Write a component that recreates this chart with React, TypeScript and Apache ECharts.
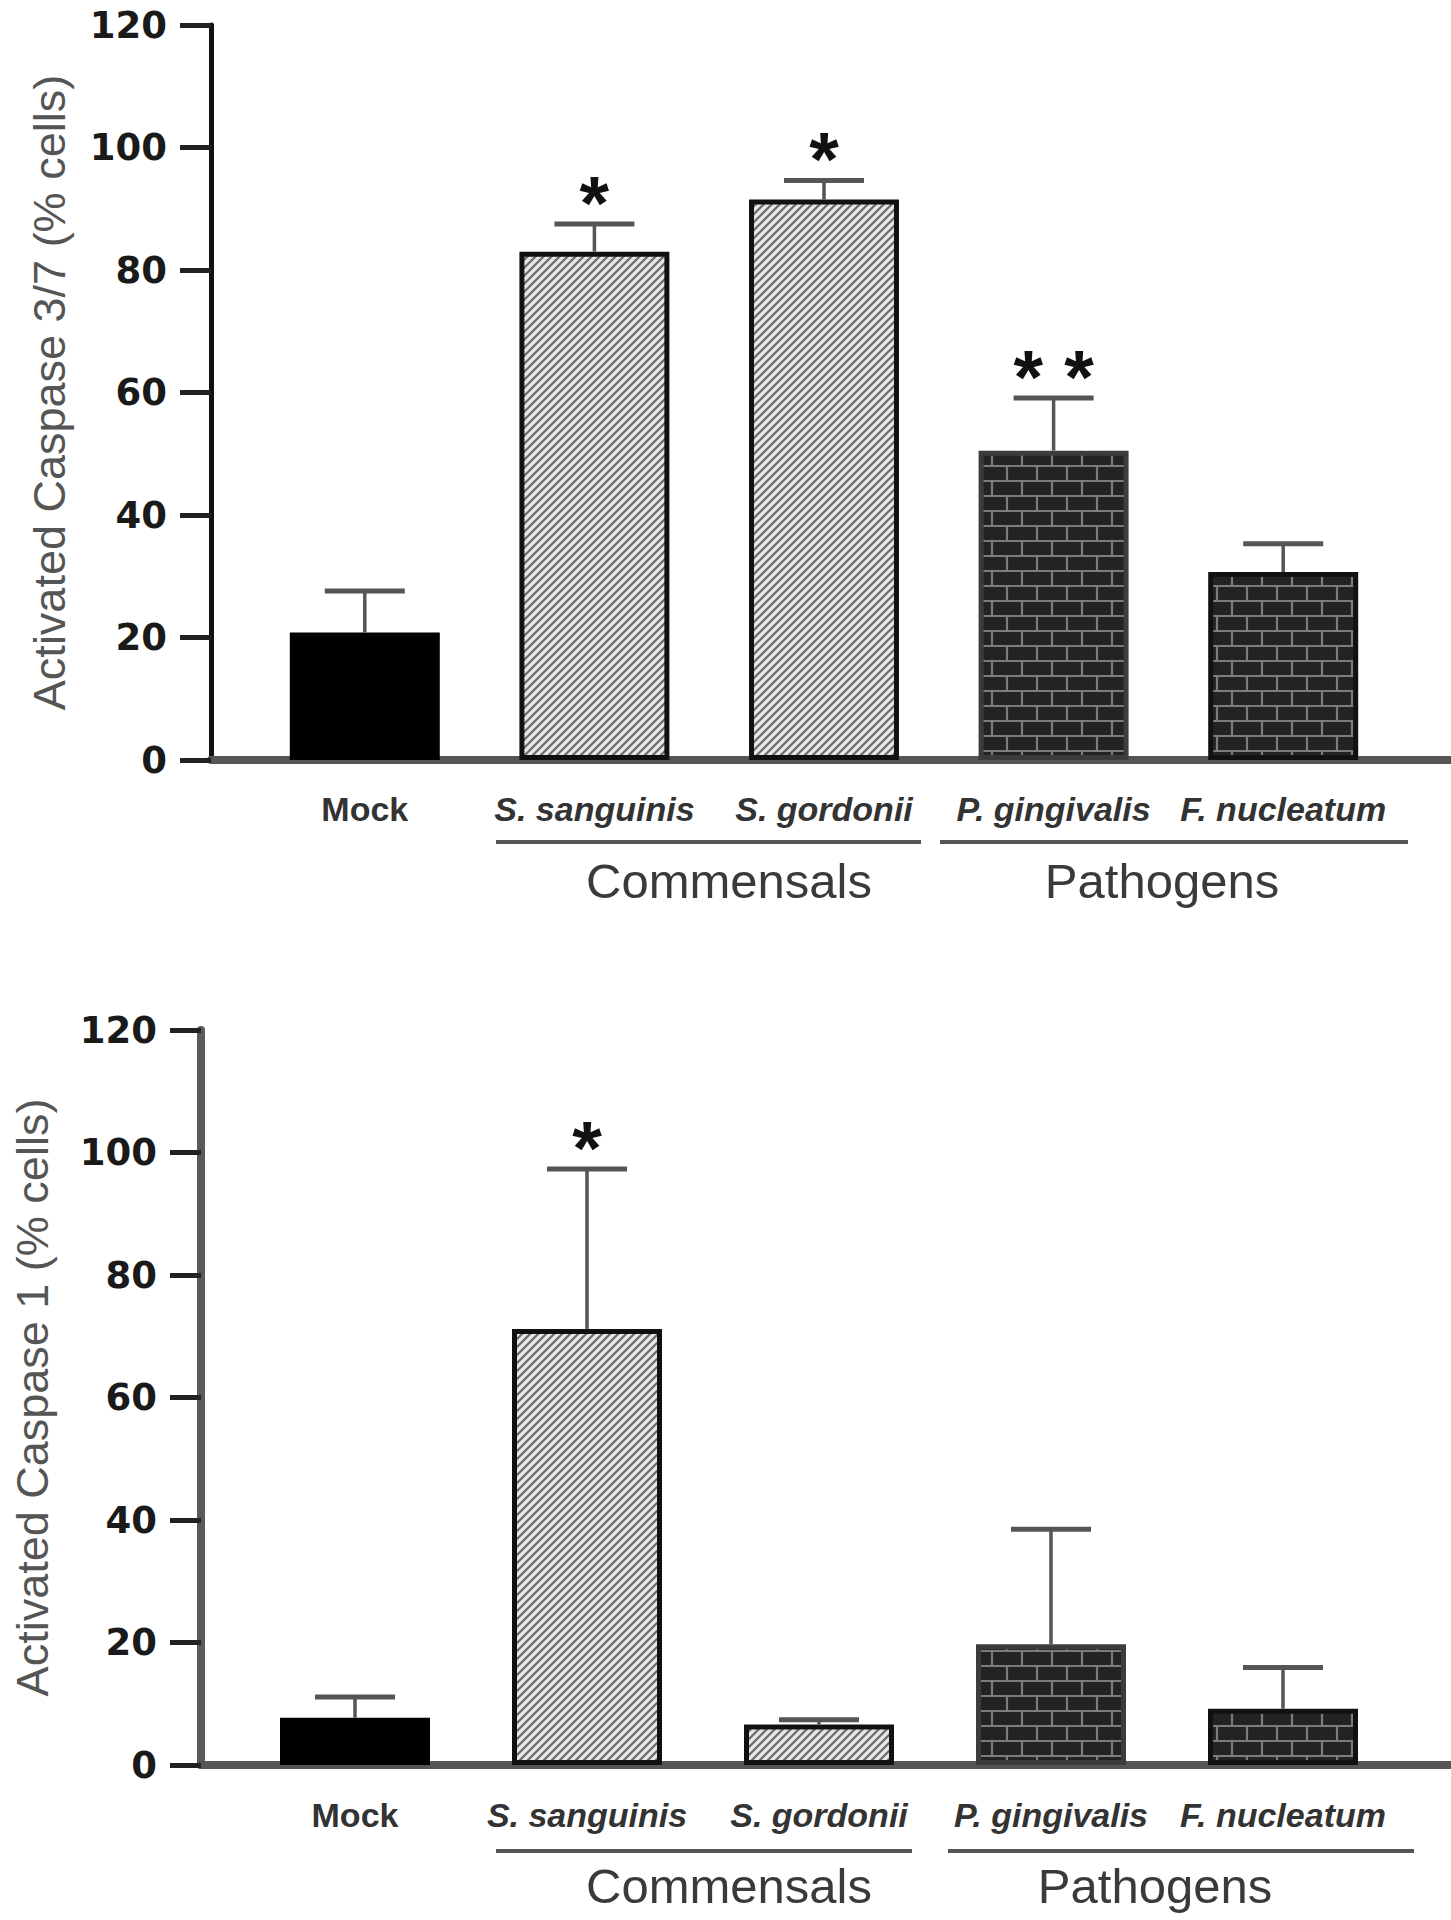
import React, { useEffect, useRef } from 'react';
import * as echarts from 'echarts';

const categories = ['Mock', 'S. sanguinis', 'S. gordonii', 'P. gingivalis', 'F. nucleatum'];
const yMin = 0;
const yMax = 120;
const yInterval = 20;

// Activated Caspase 3/7 (% cells)
const casp37Mean = [20.8, 83, 91.5, 50.5, 30.7];
const casp37Err = [6.8, 4.5, 3.1, 8.6, 4.6];
const casp37Sig = ['', '*', '*', '* *', ''];

// Activated Caspase 1 (% cells)
const casp1Mean = [7.7, 71.2, 6.6, 19.7, 9.2];
const casp1Err = [3.4, 26.1, 0.8, 18.8, 6.7];
const casp1Sig = ['', '*', '', '', ''];

const groupNames = ['Commensals', 'Pathogens'];

function makeHatch() {
  const c = document.createElement('canvas');
  c.width = 8;
  c.height = 8;
  const g = c.getContext('2d')!;
  g.fillStyle = '#e6e6e6';
  g.fillRect(0, 0, 8, 8);
  g.strokeStyle = '#6a6a6a';
  g.lineWidth = 2.2;
  g.beginPath();
  g.moveTo(-2, 10); g.lineTo(10, -2);
  g.moveTo(-2, 2); g.lineTo(2, -2);
  g.moveTo(6, 10); g.lineTo(10, 6);
  g.stroke();
  return c;
}

function makeBrick() {
  const c = document.createElement('canvas');
  c.width = 30;
  c.height = 30;
  const g = c.getContext('2d')!;
  g.fillStyle = '#232323';
  g.fillRect(0, 0, 30, 30);
  g.strokeStyle = '#7c7c7c';
  g.lineWidth = 2.2;
  g.beginPath();
  g.moveTo(0, 1); g.lineTo(30, 1);
  g.moveTo(0, 16); g.lineTo(30, 16);
  g.moveTo(2, 1); g.lineTo(2, 16);
  g.moveTo(17, 16); g.lineTo(17, 31);
  g.stroke();
  return c;
}

export default function App() {
  const ref = useRef<HTMLDivElement>(null);
  useEffect(() => {
    if (!ref.current) return;
    const chart = echarts.init(ref.current, null, { renderer: 'svg' });
    const hatch = { image: makeHatch(), repeat: 'repeat', imageWidth: 8, imageHeight: 8 };
    const brick = { image: makeBrick(), repeat: 'repeat', imageWidth: 30, imageHeight: 30 };

    const styleFor = (i: number) => {
      if (i === 0) return { color: '#000', borderColor: '#000', borderWidth: 0 };
      if (i === 1 || i === 2) return { color: hatch, borderColor: '#111', borderWidth: 5 };
      return { color: brick, borderColor: i === 3 ? '#3c3c3c' : '#111', borderWidth: 5 };
    };

    const fontSans = '"Liberation Sans", Arial, sans-serif';

    const axesGrid = (gi: number, name: string, nameGap: number, lineColor: string, lineW: number) => ({
      x: {
        type: 'value', gridIndex: gi, min: 0, max: 1,
        axisLine: { show: true, lineStyle: { color: '#555', width: 8 } },
        axisTick: { show: false }, axisLabel: { show: false }, splitLine: { show: false },
      },
      y: {
        type: 'value', gridIndex: gi, min: yMin, max: yMax, interval: yInterval,
        axisLine: { show: true, lineStyle: { color: lineColor, width: lineW } },
        axisTick: { show: true, length: 31, lineStyle: { color: '#222', width: 5 } },
        axisLabel: { margin: 44, fontSize: 37, fontWeight: 'bold', fontFamily: '"DejaVu Sans", sans-serif', color: '#1a1a1a' },
        splitLine: { show: false },
        name, nameLocation: 'middle', nameGap,
        nameTextStyle: { fontSize: 45, color: '#555', fontFamily: fontSans },
      },
    });

    const catAxis = (gi: number, margin: number) => ({
      type: 'category', gridIndex: gi, data: categories,
      axisLine: { show: false }, axisTick: { show: false },
      axisLabel: {
        interval: 0, margin,
        formatter: (v: string) => (v === 'Mock' ? `{n|${v}}` : `{i|${v}}`),
        rich: {
          n: { fontSize: 34, fontWeight: 'bold', fontFamily: fontSans, color: '#333' },
          i: { fontSize: 34, fontWeight: 'bold', fontStyle: 'italic', fontFamily: fontSans, color: '#333' },
        },
      },
    });
    const hiddenY = (gi: number) => ({ type: 'value', gridIndex: gi, min: yMin, max: yMax, show: false });

    const a0 = axesGrid(0, 'Activated Caspase 3/7 (% cells)', 139, '#111', 5);
    const a2 = axesGrid(2, 'Activated Caspase 1 (% cells)', 146, '#5a5a5a', 8);

    const barSeries = (axisIdx: number, mean: number[]) => ({
      type: 'bar', xAxisIndex: axisIdx, yAxisIndex: axisIdx, barWidth: 150, z: 2,
      data: mean.map((v, i) => ({ value: v, itemStyle: styleFor(i) })),
    });

    const errSeries = (axisIdx: number, mean: number[], err: number[], sig: string[]) => ({
      type: 'custom', xAxisIndex: axisIdx, yAxisIndex: axisIdx, z: 3,
      data: mean.map((v, i) => [i, v, err[i]]),
      renderItem: (params: any, api: any) => {
        const x = api.value(0);
        const m = api.value(1);
        const e = api.value(2);
        const p0 = api.coord([x, m]);
        const p1 = api.coord([x, m + e]);
        const children: any[] = [
          { type: 'line', shape: { x1: p0[0], y1: p0[1], x2: p1[0], y2: p1[1] }, style: { stroke: '#555', lineWidth: 3.5 } },
          { type: 'line', shape: { x1: p1[0] - 40, y1: p1[1], x2: p1[0] + 40, y2: p1[1] }, style: { stroke: '#555', lineWidth: 5 } },
        ];
        const s = sig[params.dataIndex];
        if (s) {
          children.push({
            type: 'text', x: p1[0], y: p1[1] - 38 + 16,
            style: { text: s, fontSize: 76, fontWeight: 'bold', fontFamily: fontSans, fill: '#111', align: 'center', verticalAlign: 'middle' },
          });
        }
        return { type: 'group', children };
      },
    });

    const groupGraphics = (lineY: number, textY: number, spans: number[][], textX: number[]) => {
      const els: any[] = [];
      spans.forEach((s, k) => {
        els.push({ type: 'line', shape: { x1: s[0], y1: lineY, x2: s[1], y2: lineY }, style: { stroke: '#555', lineWidth: 4 } });
        els.push({ type: 'text', x: textX[k], y: textY, style: { text: groupNames[k], fontSize: 49, fontFamily: fontSans, fill: '#3a3a3a', align: 'center', verticalAlign: 'middle' } });
      });
      return els;
    };

    chart.setOption({
      animation: false,
      backgroundColor: '#fff',
      grid: [
        { left: 211, top: 25, right: 0, height: 735 },
        { left: 250, top: 25, width: 1148, height: 735 },
        { left: 201, top: 1030, right: 0, height: 735 },
        { left: 239, top: 1030, width: 1160, height: 735 },
      ],
      xAxis: [a0.x, catAxis(1, 32), a2.x, catAxis(3, 33)],
      yAxis: [a0.y, hiddenY(1), a2.y, hiddenY(3)],
      series: [
        barSeries(1, casp37Mean),
        errSeries(1, casp37Mean, casp37Err, casp37Sig),
        barSeries(3, casp1Mean),
        errSeries(3, casp1Mean, casp1Err, casp1Sig),
      ],
      graphic: [
        ...groupGraphics(842, 881, [[496, 921], [940, 1408]], [729, 1162]),
        ...groupGraphics(1851, 1886, [[496, 912], [948, 1414]], [729, 1155]),
      ],
    });
    return () => chart.dispose();
  }, []);
  return <div ref={ref} style={{ position: 'absolute', left: 0, top: 0, width: 1451, height: 1920 }} />;
}
